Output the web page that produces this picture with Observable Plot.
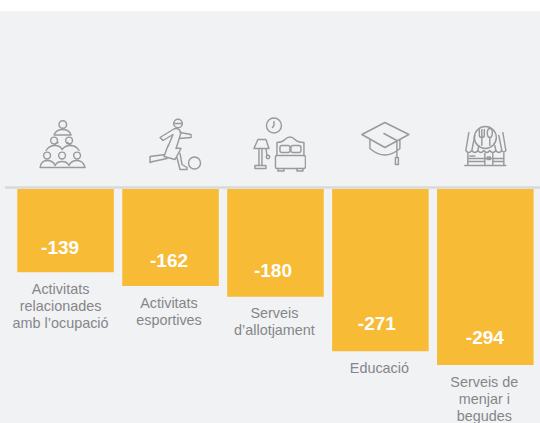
<!DOCTYPE html>
<html><head><meta charset="utf-8">
<script src="https://cdn.jsdelivr.net/npm/d3@7"></script>
<script src="https://cdn.jsdelivr.net/npm/@observablehq/plot@0.6"></script>
<style>html,body{margin:0;padding:0;background:#fff}svg{display:block}</style>
</head><body><div id="c"></div><script>
const categories = ["Activitats relacionades amb l’ocupació","Activitats esportives","Serveis d’allotjament","Educació","Serveis de menjar i begudes"];
const values = [-139,-162,-180,-271,-294];
const labelLines = ["Activitats\nrelacionades\namb l’ocupació","Activitats\nesportives","Serveis\nd’allotjament","Educació","Serveis de\nmenjar i\nbegudes"];
const valueNudge = [-6,-2,-3,-4,-1];
const valueLift = [25,26,26,28,28];
const labelNudge = [-5.5,-2,-1.5,-1.5,-1.5];
const iconNudgeX = [0,4,0,5,0];
const iconNudgeY = [0,-3,-3,0,0];
const iconGlyphs = [
`<circle cx="26.7" cy="9" r="3.8"/><circle cx="18" cy="25" r="3.4"/><circle cx="33" cy="25" r="3.4"/><circle cx="11" cy="40" r="3.4"/><circle cx="26" cy="40" r="3.4"/><circle cx="41" cy="40" r="3.4"/><path d="M18 19.5Q20 14 26.7 14Q33 14 35 19.5Z"/><path d="M10 35Q13 30 19 30Q24 30 26 34Q29 30 34 30Q40 30 43 35"/><path d="M18 30Q19 28 22 27M35 30Q34 28 31 27"/><path d="M4 52Q5 45 11 45Q17 45 19 50Q21 46 26 46Q31 46 33 50Q35 45 41 45Q47 45 49 52Z"/>`,
`<circle cx="33" cy="11" r="4.3"/><path d="M29 11H37M28 17L15 25L18 28L28 22M35 20L46 22V25L34 26M28 17Q31 15 34 17L36 20L33 30L31 36M28 22L23 34M23 33L19 44L30 47L36 36L31 35.5M20 42L5 44V50L8 49L22 46M35 41L37 52L42 55V57H35L32 45"/><circle cx="49.5" cy="50.5" r="6"/>`,
`<circle cx="28" cy="13" r="7.5"/><path d="M28 9V13L26.5 15M8 36L12 27H20L23 36ZM13 36V53M16 36V53M9 56V53H20V56ZM20 36L21 43"/><circle cx="22" cy="44.5" r="1.7"/><path d="M31 43V30Q36 30 39 27Q44 22 49 27Q52 30 58 30V43"/><rect x="34" y="33" width="10" height="7" rx="2"/><rect x="45" y="33" width="10" height="7" rx="2"/><rect x="29.5" y="43" width="30" height="13" rx="1.5"/><path d="M32 56V58.5H38V56M51 56V58.5H57V56"/>`,
`<path d="M6 19L29 7L53 19L29 32ZM14 24V33Q29 46 44 33V24M28 18L41 25V42"/><rect x="39.5" y="42" width="3" height="7"/>`,
`<circle cx="29.5" cy="22" r="11"/><path d="M23.5 14V20Q23.5 22 26 22Q28.5 22 28.5 20V14M26 14V30M34 22V30"/><ellipse cx="34" cy="17.5" rx="2.5" ry="4.5"/><path d="M13 17L10 35Q13 39 16 35Q19 39 22 35Q25 39 28 35Q31 39 34 35Q37 39 40 35Q43 39 46 35Q48 38 50 35L47 17M16 35L19 20M22 35L23 30M40 35L39 30M46 35L43 20M12 38V49M48 38V49M9 50H50M12 43H48M12 46H29M37 46H48M29 38V49M37 38V49"/><rect x="31.5" y="41.5" width="3" height="2.5"/><path d="M14 40.5H20" stroke-dasharray="1 1"/>`
];
const iconLevel = 73.5;
const iconSrc = g => "data:image/svg+xml," + encodeURIComponent(`<svg xmlns="http://www.w3.org/2000/svg" viewBox="0 0 60 60" width="60" height="60" fill="none" stroke="#989a9c" stroke-width="1.45" stroke-linejoin="round" stroke-linecap="round">${g}</svg>`);
const rows = categories.map((c,i)=>({c,v:values[i],label:labelLines[i],glyph:iconGlyphs[i]}));
const chart = Plot.plot({
  width:540,height:423,margin:0,
  style:{background:"linear-gradient(#fff 0 11px,#f1f2f4 11px)",fontFamily:"'Liberation Sans',Arial,sans-serif"},
  x:{domain:categories,range:[17.3,533.6],paddingInner:0.08,paddingOuter:0,round:false,axis:null},
  y:{domain:[0,-294],range:[189,365],axis:null},
  marks:[
    Plot.barY(rows,{x:"c",y:"v",fill:"#f7bb36"}),
    Plot.ruleY([0],{stroke:"#d8d9db",strokeWidth:2.5,dy:-2,insetLeft:5}),
    ...rows.flatMap((r,i)=>[
      Plot.image([r],{x:"c",y:()=>iconLevel,src:d=>iconSrc(d.glyph),width:60,height:60,dx:iconNudgeX[i],dy:iconNudgeY[i]}),
      Plot.text([r],{x:"c",y:"v",text:d=>String(d.v),fill:"#fff",fontWeight:"bold",fontSize:19,lineAnchor:"middle",dx:valueNudge[i],dy:-valueLift[i]}),
      Plot.text([r],{x:"c",y:"v",text:"label",fill:"#85868a",fontSize:14.4,lineHeight:1.18,lineAnchor:"top",dx:labelNudge[i],dy:9})
    ])
  ]
});
document.getElementById("c").append(chart);
</script></body></html>
